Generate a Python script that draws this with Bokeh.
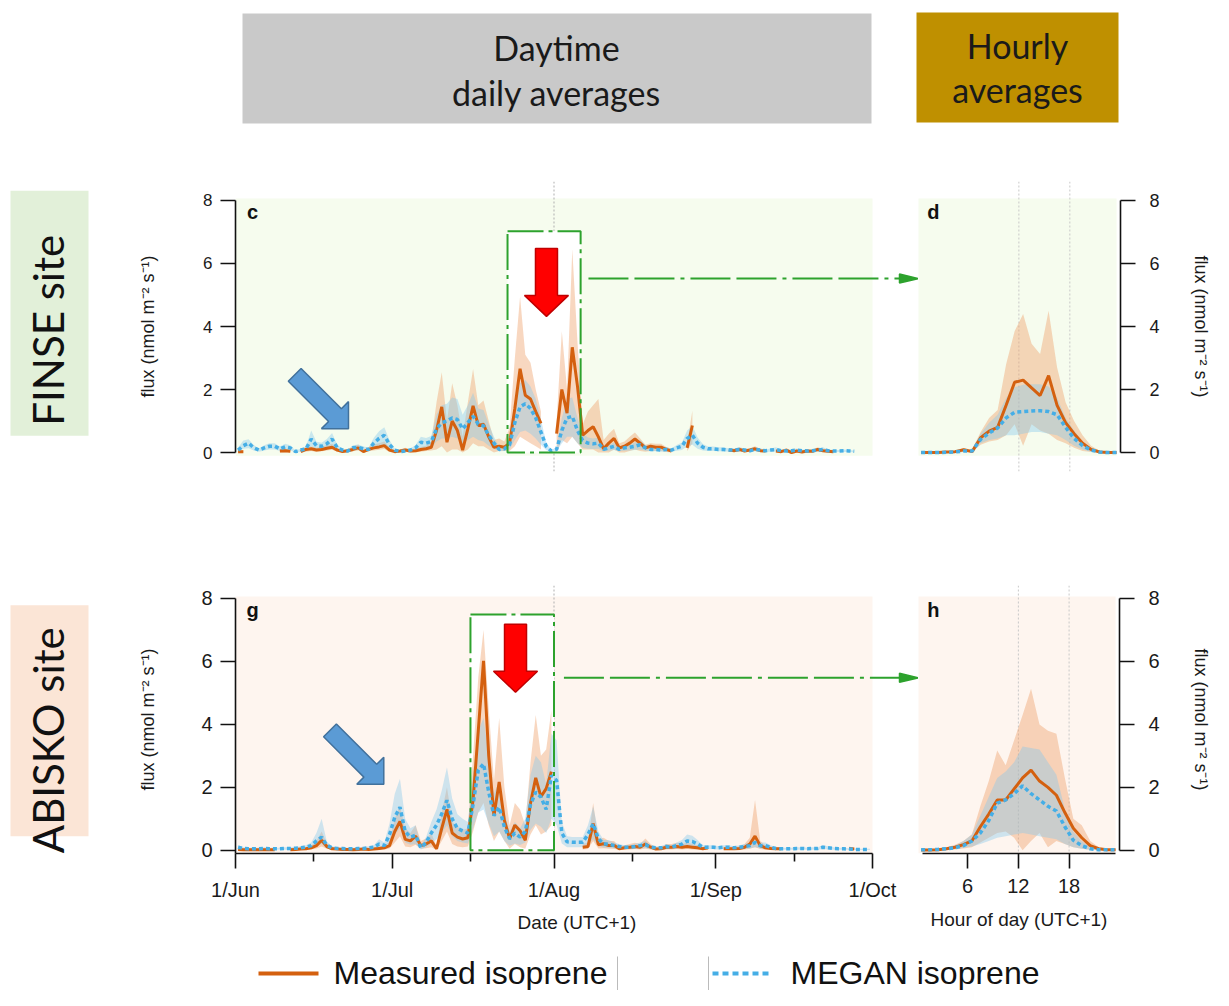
import math
from bokeh.plotting import figure
from bokeh.models import Range1d, LinearAxis, FixedTicker, Span
from bokeh.layouts import column, row
from bokeh.embed import file_html
from bokeh.resources import INLINE
from bokeh.core.properties import value

nan = float("nan")

# ------------------------------------------------------------------ data
# daily panels: day of season, 0 = 1 June (values plotted at mid-day)
season_day = [d + 0.5 for d in range(122)]
month_tick_days = [0, 30, 61, 92, 122]
month_tick_labels = ["1/Jun", "1/Jul", "1/Aug", "1/Sep", "1/Oct"]
mid_month_days = [15, 45, 76, 107]
hour_of_day = [h + 0.5 for h in range(24)]
hour_ticks = [6, 12, 18]
flux_ticks = [0, 2, 4, 6, 8]

# ---- FINSE, daytime daily averages (panel c)
finse_measured = [
    0.03, 0.03, nan, nan, nan, nan, nan, nan, 0.05, 0.06,
    0.04, nan, 0.03, 0.10, 0.12, 0.08, 0.10, 0.14, 0.17, 0.08,
    0.03, 0.06, 0.10, 0.15, 0.03, 0.10, 0.15, 0.18, 0.22, 0.08,
    0.03, 0.05, 0.08, 0.05, 0.06, 0.10, 0.12, 0.17, 0.70, 1.45,
    0.33, 1.00, 0.70, 0.08, 0.75, 1.48, 0.86, 0.90, 0.50, 0.17,
    0.20, 0.17, 0.30, 1.40, 2.66, 1.82, 1.70, 1.30, 0.93, nan,
    nan, 0.60, 2.00, 1.25, 3.34, 2.10, 0.55, 0.70, 0.82, 0.50,
    0.12, 0.30, 0.45, 0.15, 0.20, 0.30, 0.43, 0.30, 0.15, 0.20,
    0.17, 0.17, 0.10, 0.05, nan, nan, 0.15, 0.86, nan, nan,
    nan, nan, nan, nan, 0.08, 0.06, 0.10, 0.05, 0.08, 0.12,
    0.06, 0.05, nan, 0.05, 0.03, 0.08, 0.00, 0.05, 0.02, 0.05,
    0.04, 0.10, 0.06, 0.04, 0.03, nan, nan, nan, nan, nan,
    nan, nan]
finse_measured_lo = [
    0.00, 0.00, nan, nan, nan, nan, nan, nan, 0.00, 0.01,
    0.00, nan, 0.00, 0.03, 0.05, 0.02, 0.04, 0.07, 0.09, 0.03,
    0.00, 0.01, 0.04, 0.07, 0.00, 0.04, 0.07, 0.09, 0.11, 0.02,
    0.00, 0.00, 0.02, 0.00, 0.01, 0.03, 0.05, 0.07, 0.10, 0.20,
    0.00, 0.10, 0.10, 0.00, 0.10, 0.30, 0.20, 0.20, 0.10, 0.00,
    0.05, 0.05, 0.05, 0.20, 0.50, 0.40, 0.30, 0.20, 0.10, nan,
    nan, 0.00, 0.40, 0.30, 0.50, 0.30, 0.10, 0.10, 0.10, 0.00,
    0.00, 0.00, 0.10, 0.00, 0.00, 0.05, 0.10, 0.05, 0.03, 0.05,
    0.05, 0.05, 0.02, 0.00, nan, nan, 0.05, 0.30, nan, nan,
    nan, nan, nan, nan, 0.03, 0.02, 0.04, 0.01, 0.03, 0.05,
    0.02, 0.01, nan, 0.01, 0.00, 0.03, 0.00, 0.01, 0.00, 0.01,
    0.00, 0.04, 0.02, 0.00, 0.00, nan, nan, nan, nan, nan,
    nan, nan]
finse_measured_hi = [
    0.08, 0.08, nan, nan, nan, nan, nan, nan, 0.10, 0.12,
    0.09, nan, 0.08, 0.18, 0.20, 0.15, 0.18, 0.24, 0.28, 0.15,
    0.08, 0.12, 0.18, 0.26, 0.08, 0.18, 0.26, 0.30, 0.35, 0.15,
    0.08, 0.10, 0.15, 0.10, 0.12, 0.18, 0.22, 0.35, 1.60, 2.55,
    1.00, 2.20, 1.50, 0.50, 1.60, 2.65, 1.50, 1.65, 1.00, 0.40,
    0.45, 0.35, 0.80, 3.00, 4.95, 3.10, 2.85, 2.00, 1.30, nan,
    nan, 1.00, 3.85, 2.00, 6.45, 3.50, 0.90, 1.30, 1.50, 1.70,
    0.40, 0.60, 0.76, 0.30, 0.35, 0.50, 0.64, 0.45, 0.25, 0.30,
    0.28, 0.28, 0.18, 0.12, nan, nan, 0.30, 1.33, nan, nan,
    nan, nan, nan, nan, 0.14, 0.12, 0.17, 0.10, 0.14, 0.20,
    0.12, 0.10, nan, 0.10, 0.08, 0.14, 0.05, 0.10, 0.06, 0.10,
    0.09, 0.17, 0.12, 0.09, 0.08, nan, nan, nan, nan, nan,
    nan, nan]
finse_megan = [
    0.08, 0.22, 0.30, 0.15, 0.08, 0.15, 0.20, 0.20, 0.12, 0.18,
    0.15, 0.03, 0.08, 0.12, 0.43, 0.22, 0.20, 0.28, 0.43, 0.15,
    0.08, 0.05, 0.15, 0.17, 0.12, 0.10, 0.30, 0.45, 0.55, 0.25,
    0.08, 0.03, 0.05, 0.08, 0.15, 0.33, 0.30, 0.35, 0.75, 0.95,
    1.00, 1.10, 1.05, 0.75, 0.95, 1.15, 0.90, 0.85, 0.55, 0.30,
    0.10, 0.12, 0.25, 0.95, 1.45, 1.55, 1.40, 1.10, 0.65, 0.20,
    0.05, 0.10, 0.70, 1.10, 1.15, 0.70, 0.38, 0.30, 0.28, 0.30,
    0.10, 0.15, 0.20, 0.10, 0.15, 0.17, 0.20, 0.25, 0.15, 0.10,
    0.10, 0.08, 0.10, 0.08, 0.15, 0.20, 0.45, 0.55, 0.30, 0.17,
    0.12, 0.12, 0.10, 0.10, 0.08, 0.08, 0.10, 0.08, 0.06, 0.10,
    0.08, 0.06, 0.08, 0.10, 0.06, 0.05, 0.06, 0.08, 0.06, 0.05,
    0.06, 0.08, 0.10, 0.06, 0.05, 0.05, 0.06, 0.05, 0.04, nan,
    nan, nan]
finse_megan_lo = [
    0.04, 0.12, 0.14, 0.07, 0.03, 0.07, 0.10, 0.10, 0.05, 0.08,
    0.07, 0.01, 0.03, 0.05, 0.20, 0.10, 0.09, 0.13, 0.20, 0.07,
    0.03, 0.02, 0.07, 0.08, 0.05, 0.04, 0.14, 0.20, 0.25, 0.11,
    0.03, 0.01, 0.02, 0.03, 0.07, 0.15, 0.13, 0.15, 0.35, 0.45,
    0.45, 0.50, 0.45, 0.30, 0.40, 0.50, 0.40, 0.35, 0.22, 0.12,
    0.04, 0.05, 0.10, 0.40, 0.65, 0.70, 0.60, 0.45, 0.25, 0.08,
    0.02, 0.04, 0.30, 0.50, 0.50, 0.30, 0.15, 0.12, 0.11, 0.12,
    0.04, 0.06, 0.08, 0.04, 0.06, 0.07, 0.08, 0.10, 0.06, 0.04,
    0.04, 0.03, 0.04, 0.03, 0.06, 0.08, 0.20, 0.25, 0.12, 0.07,
    0.05, 0.05, 0.04, 0.04, 0.03, 0.03, 0.04, 0.03, 0.02, 0.04,
    0.03, 0.02, 0.03, 0.04, 0.02, 0.02, 0.02, 0.03, 0.02, 0.02,
    0.02, 0.03, 0.04, 0.02, 0.02, 0.02, 0.02, 0.02, 0.01, nan,
    nan, nan]
finse_megan_hi = [
    0.16, 0.38, 0.42, 0.24, 0.13, 0.23, 0.30, 0.30, 0.19, 0.28,
    0.23, 0.06, 0.13, 0.19, 0.70, 0.34, 0.31, 0.43, 0.62, 0.24,
    0.13, 0.08, 0.23, 0.26, 0.19, 0.16, 0.47, 0.68, 0.80, 0.39,
    0.13, 0.06, 0.08, 0.13, 0.24, 0.50, 0.46, 0.53, 1.20, 1.50,
    1.55, 1.75, 1.70, 1.20, 1.50, 1.90, 1.40, 1.35, 0.90, 0.50,
    0.17, 0.20, 0.40, 1.50, 2.20, 2.30, 2.10, 1.70, 1.05, 0.33,
    0.08, 0.17, 1.10, 1.70, 1.75, 1.10, 0.60, 0.48, 0.45, 0.48,
    0.17, 0.24, 0.32, 0.17, 0.24, 0.27, 0.32, 0.40, 0.24, 0.17,
    0.17, 0.13, 0.17, 0.13, 0.24, 0.32, 0.70, 0.85, 0.48, 0.27,
    0.19, 0.19, 0.17, 0.17, 0.13, 0.13, 0.17, 0.13, 0.10, 0.17,
    0.13, 0.10, 0.13, 0.17, 0.10, 0.08, 0.10, 0.13, 0.10, 0.08,
    0.10, 0.13, 0.17, 0.10, 0.08, 0.08, 0.10, 0.08, 0.07, nan,
    nan, nan]

# ---- FINSE, hourly averages (panel d)
finse_hourly_measured = [0.00, 0.00, 0.00, 0.02, 0.03, 0.09, 0.03, 0.47, 0.68, 0.80,
                         1.50, 2.23, 2.30, 2.05, 1.81, 2.44, 1.50, 0.95, 0.60, 0.30,
                         0.10, 0.02, 0.00, 0.00]
finse_hourly_measured_lo = [0.00, 0.00, 0.00, 0.00, 0.00, 0.02, 0.01, 0.25, 0.35, 0.40,
                            0.55, 0.90, 0.22, 0.90, 0.70, 0.60, 0.40, 0.30, 0.15, 0.05,
                            0.02, 0.00, 0.00, 0.00]
finse_hourly_measured_hi = [0.02, 0.02, 0.02, 0.05, 0.06, 0.14, 0.10, 0.65, 1.10, 1.35,
                            2.80, 3.85, 4.40, 3.45, 3.13, 4.50, 2.70, 1.60, 1.00, 0.55,
                            0.22, 0.06, 0.02, 0.02]
finse_hourly_megan = [0.00, 0.00, 0.00, 0.01, 0.02, 0.05, 0.05, 0.42, 0.62, 0.78,
                      1.10, 1.28, 1.30, 1.32, 1.33, 1.30, 1.20, 0.80, 0.45, 0.22,
                      0.08, 0.02, 0.00, 0.00]
finse_hourly_megan_lo = [0.00, 0.00, 0.00, 0.00, 0.01, 0.02, 0.02, 0.30, 0.40, 0.45,
                         0.55, 0.55, 0.60, 0.65, 0.65, 0.60, 0.55, 0.40, 0.22, 0.10,
                         0.03, 0.01, 0.00, 0.00]
finse_hourly_megan_hi = [0.01, 0.01, 0.01, 0.03, 0.04, 0.09, 0.10, 0.60, 0.95, 1.20,
                         1.73, 2.07, 2.15, 2.17, 2.17, 2.10, 1.74, 1.10, 0.70, 0.35,
                         0.13, 0.04, 0.01, 0.01]

# ---- ABISKO, daytime daily averages (panel g)
abisko_measured = [
    0.03, 0.02, 0.02, 0.02, 0.02, 0.02, 0.02, 0.02, nan, nan,
    0.02, 0.03, 0.04, 0.05, 0.08, 0.15, 0.32, 0.12, 0.05, 0.04,
    0.03, 0.03, 0.02, 0.03, 0.04, 0.03, 0.04, 0.06, 0.08, 0.15,
    0.60, 0.92, 0.35, 0.30, 0.45, 0.15, 0.20, 0.30, 0.05, 0.70,
    1.30, 0.55, 0.42, 0.36, 0.40, 1.60, 3.80, 6.02, 3.00, 1.10,
    2.17, 0.95, 0.37, 0.80, 0.62, 0.32, 1.50, 2.30, 1.70, 1.96,
    2.50, nan, nan, nan, nan, nan, 0.10, 0.12, 0.85, 0.18,
    0.21, 0.15, 0.16, 0.05, 0.08, 0.10, 0.12, 0.10, 0.20, 0.10,
    0.04, 0.05, 0.10, 0.10, 0.12, 0.10, 0.12, 0.10, 0.08, 0.05,
    0.08, nan, nan, 0.05, 0.05, 0.05, 0.06, 0.10, 0.20, 0.45,
    0.15, 0.08, 0.06, 0.05, 0.05, nan, nan, nan, nan, nan,
    nan, nan, nan, nan, nan, nan, nan, 0.06, 0.04, nan,
    nan, nan]
abisko_measured_lo = [
    0.01, 0.00, 0.00, 0.00, 0.00, 0.00, 0.00, 0.00, nan, nan,
    0.00, 0.01, 0.01, 0.02, 0.03, 0.06, 0.12, 0.05, 0.02, 0.01,
    0.01, 0.01, 0.00, 0.01, 0.01, 0.01, 0.01, 0.02, 0.03, 0.06,
    0.25, 0.45, 0.12, 0.10, 0.18, 0.05, 0.07, 0.10, 0.01, 0.30,
    0.60, 0.20, 0.12, 0.10, 0.12, 0.60, 1.20, 1.50, 0.80, 0.30,
    0.60, 0.30, 0.05, 0.20, 0.10, 0.05, 0.50, 0.80, 0.50, 0.60,
    0.80, nan, nan, nan, nan, nan, 0.03, 0.04, 0.30, 0.06,
    0.07, 0.05, 0.05, 0.01, 0.02, 0.03, 0.04, 0.03, 0.06, 0.03,
    0.01, 0.01, 0.03, 0.03, 0.04, 0.03, 0.04, 0.03, 0.02, 0.01,
    0.02, nan, nan, 0.01, 0.01, 0.01, 0.02, 0.03, 0.05, 0.10,
    0.04, 0.02, 0.02, 0.01, 0.01, nan, nan, nan, nan, nan,
    nan, nan, nan, nan, nan, nan, nan, 0.02, 0.01, nan,
    nan, nan]
abisko_measured_hi = [
    0.06, 0.05, 0.05, 0.05, 0.05, 0.05, 0.05, 0.05, nan, nan,
    0.05, 0.06, 0.08, 0.10, 0.15, 0.30, 0.60, 0.22, 0.10, 0.08,
    0.06, 0.06, 0.05, 0.06, 0.08, 0.06, 0.08, 0.12, 0.15, 0.28,
    1.00, 1.40, 0.70, 0.55, 0.80, 0.30, 0.38, 0.55, 0.12, 1.20,
    2.00, 0.90, 0.75, 0.65, 0.70, 3.00, 5.50, 7.00, 4.50, 2.20,
    4.20, 2.00, 0.80, 1.50, 1.30, 0.80, 2.80, 4.30, 3.00, 3.20,
    4.45, nan, nan, nan, nan, nan, 0.20, 0.25, 1.50, 0.35,
    0.40, 0.30, 0.30, 0.12, 0.16, 0.20, 0.24, 0.20, 0.38, 0.20,
    0.10, 0.10, 0.20, 0.20, 0.24, 0.20, 0.24, 0.20, 0.16, 0.10,
    0.16, nan, nan, 0.10, 0.10, 0.10, 0.12, 0.20, 0.40, 1.60,
    0.30, 0.16, 0.12, 0.10, 0.10, nan, nan, nan, nan, nan,
    nan, nan, nan, nan, nan, nan, nan, 0.12, 0.08, nan,
    nan, nan]
abisko_megan = [
    0.10, 0.06, 0.05, 0.05, 0.05, 0.06, 0.05, 0.05, 0.05, 0.06,
    0.06, 0.07, 0.08, 0.10, 0.15, 0.30, 0.42, 0.16, 0.08, 0.06,
    0.06, 0.05, 0.05, 0.06, 0.06, 0.08, 0.10, 0.20, 0.15, 0.50,
    1.05, 1.37, 0.60, 0.42, 0.48, 0.08, 0.25, 0.55, 0.80, 1.16,
    1.59, 1.00, 0.70, 0.62, 0.55, 1.45, 2.55, 2.75, 1.85, 1.10,
    1.37, 0.74, 0.37, 0.55, 0.42, 0.60, 1.45, 1.85, 1.69, 1.30,
    2.38, 2.22, 0.55, 0.27, 0.26, 0.26, 0.26, 0.50, 0.85, 0.37,
    0.20, 0.20, 0.15, 0.12, 0.10, 0.10, 0.12, 0.15, 0.18, 0.10,
    0.08, 0.08, 0.12, 0.10, 0.15, 0.20, 0.30, 0.28, 0.20, 0.10,
    0.10, 0.10, 0.08, 0.10, 0.10, 0.08, 0.10, 0.12, 0.15, 0.25,
    0.15, 0.15, 0.10, 0.06, 0.05, 0.05, 0.05, 0.06, 0.06, 0.05,
    0.06, 0.06, 0.10, 0.08, 0.06, 0.05, 0.05, 0.04, 0.03, 0.03,
    0.03, 0.03]
abisko_megan_lo = [
    0.04, 0.02, 0.02, 0.02, 0.02, 0.02, 0.02, 0.02, 0.02, 0.02,
    0.02, 0.03, 0.03, 0.04, 0.06, 0.12, 0.20, 0.06, 0.03, 0.02,
    0.02, 0.02, 0.02, 0.02, 0.02, 0.03, 0.04, 0.08, 0.06, 0.20,
    0.50, 0.70, 0.25, 0.18, 0.20, 0.03, 0.10, 0.22, 0.35, 0.55,
    0.80, 0.45, 0.30, 0.25, 0.22, 0.70, 1.20, 1.30, 0.85, 0.45,
    0.60, 0.30, 0.15, 0.22, 0.17, 0.25, 0.65, 0.85, 0.75, 0.55,
    1.00, 0.80, 0.22, 0.10, 0.10, 0.10, 0.10, 0.20, 0.35, 0.15,
    0.08, 0.08, 0.06, 0.05, 0.04, 0.04, 0.05, 0.06, 0.07, 0.04,
    0.03, 0.03, 0.05, 0.04, 0.06, 0.08, 0.12, 0.11, 0.08, 0.04,
    0.04, 0.04, 0.03, 0.04, 0.04, 0.03, 0.04, 0.05, 0.06, 0.10,
    0.06, 0.06, 0.04, 0.02, 0.02, 0.02, 0.02, 0.02, 0.02, 0.02,
    0.02, 0.02, 0.04, 0.03, 0.02, 0.02, 0.02, 0.02, 0.01, 0.01,
    0.01, 0.01]
abisko_megan_hi = [
    0.16, 0.10, 0.08, 0.08, 0.08, 0.10, 0.08, 0.08, 0.08, 0.10,
    0.10, 0.11, 0.13, 0.16, 0.25, 0.55, 1.00, 0.27, 0.13, 0.10,
    0.10, 0.08, 0.08, 0.10, 0.10, 0.13, 0.16, 0.35, 0.25, 0.85,
    1.80, 2.27, 1.00, 0.70, 0.80, 0.14, 0.42, 0.90, 1.30, 1.90,
    2.64, 1.65, 1.15, 1.00, 0.90, 2.40, 3.80, 4.20, 3.00, 1.80,
    2.20, 1.20, 0.60, 0.90, 0.70, 1.00, 2.40, 3.00, 2.80, 2.10,
    3.70, 3.50, 0.90, 0.45, 0.42, 0.42, 0.42, 0.80, 1.40, 0.60,
    0.33, 0.33, 0.25, 0.20, 0.16, 0.16, 0.20, 0.25, 0.30, 0.16,
    0.13, 0.13, 0.20, 0.16, 0.25, 0.33, 0.50, 0.46, 0.33, 0.16,
    0.16, 0.16, 0.13, 0.16, 0.16, 0.13, 0.16, 0.20, 0.25, 0.40,
    0.25, 0.25, 0.16, 0.10, 0.08, 0.08, 0.08, 0.10, 0.10, 0.08,
    0.10, 0.10, 0.16, 0.13, 0.10, 0.08, 0.08, 0.07, 0.05, 0.05,
    0.05, 0.05]

# ---- ABISKO, hourly averages (panel h)
abisko_hourly_measured = [0.01, 0.01, 0.02, 0.05, 0.10, 0.18, 0.30, 0.75, 1.15, 1.60,
                          1.60, 1.95, 2.30, 2.55, 2.20, 2.00, 1.75, 1.20, 0.70, 0.40,
                          0.15, 0.05, 0.02, 0.02]
abisko_hourly_measured_lo = [0.00, 0.00, 0.00, 0.01, 0.03, 0.06, 0.10, 0.25, 0.40, 0.55,
                             0.60, 0.40, 0.00, 0.30, 0.55, 0.10, 0.30, 0.20, 0.10, 0.05,
                             0.02, 0.00, 0.00, 0.00]
abisko_hourly_measured_hi = [0.03, 0.03, 0.05, 0.10, 0.18, 0.30, 0.50, 1.40, 2.20, 3.17,
                             2.70, 3.50, 4.30, 5.13, 4.00, 3.80, 3.70, 2.30, 1.00, 0.80,
                             0.30, 0.10, 0.05, 0.05]
abisko_hourly_megan = [0.02, 0.02, 0.03, 0.05, 0.08, 0.15, 0.30, 0.55, 0.95, 1.50,
                       1.60, 1.80, 2.05, 1.80, 1.60, 1.40, 1.25, 0.75, 0.32, 0.15,
                       0.05, 0.02, 0.02, 0.02]
abisko_hourly_megan_lo = [0.01, 0.01, 0.01, 0.02, 0.04, 0.08, 0.12, 0.20, 0.30, 0.40,
                          0.45, 0.50, 0.55, 0.50, 0.45, 0.40, 0.35, 0.20, 0.10, 0.05,
                          0.02, 0.01, 0.01, 0.01]
abisko_hourly_megan_hi = [0.03, 0.03, 0.05, 0.08, 0.15, 0.30, 0.50, 1.10, 1.70, 2.30,
                          2.50, 2.80, 3.30, 3.25, 3.20, 2.80, 2.40, 1.30, 0.60, 0.30,
                          0.10, 0.04, 0.03, 0.03]

# ------------------------------------------------------------------ styles
ORANGE = "#D4600F"
BLUE = "#45AEE6"
ORANGE_BAND = "#EFA06A"
BLUE_BAND = "#86C8EA"
GREEN = "#2DA22D"
AX_FONT = "Liberation Sans"
TITLE_FONT = "Lato"
Y_LABEL = "flux (nmol m\u207b\u00b2 s\u207b\u00b9)"

PX_PER_DAY = 637 / 122.0
PX_PER_HOUR = 8.58

BLUE_ARROW_PX = [(0, 0), (0, -27), (-7.1, -19.9), (-47.4, -60.2),
                 (-60.2, -47.4), (-19.9, -7.1), (-27, 0)]
RED_ARROW_PX = [(0, 0), (22, -21), (11, -21), (11, -68),
                (-11, -68), (-11, -21), (-22, -21)]


def base_fig(width, height, xr, yr, **borders):
    p = figure(width=width, height=height, x_range=xr, y_range=yr,
               x_axis_type=None, y_axis_type=None, toolbar_location=None,
               output_backend="svg", outline_line_color=None,
               background_fill_color="white", border_fill_color="white",
               min_border=0, **borders)
    return p


def style_axis(ax, tick_size, label_size):
    ax.axis_line_width = 1.6
    ax.axis_line_color = "#111111"
    ax.major_tick_line_width = 1.6
    ax.minor_tick_line_width = 1.6
    ax.major_tick_line_color = "#111111"
    ax.minor_tick_line_color = "#111111"
    ax.major_tick_in = 0
    ax.major_tick_out = 15
    ax.minor_tick_in = 0
    ax.minor_tick_out = 8
    ax.major_label_text_font = AX_FONT
    ax.major_label_text_font_size = tick_size
    ax.major_label_text_color = "#1a1a1a"
    ax.axis_label_text_font = AX_FONT
    ax.axis_label_text_font_style = "normal"
    ax.axis_label_text_font_size = label_size
    ax.axis_label_text_color = "#1a1a1a"


def band(p, x, lo, hi, color, alpha):
    sx, sl, sh = [], [], []

    def flush():
        if len(sx) > 1:
            p.varea(x=list(sx), y1=list(sl), y2=list(sh),
                    fill_color=color, fill_alpha=alpha)
        sx.clear(); sl.clear(); sh.clear()

    for xi, l, h in zip(x, lo, hi):
        if l != l or h != h:
            flush()
        else:
            sx.append(xi); sl.append(l); sh.append(h)
    flush()


def series(p, x, m, mlo, mhi, g, glo, ghi):
    band(p, x, mlo, mhi, ORANGE_BAND, 0.42)
    band(p, x, glo, ghi, BLUE_BAND, 0.40)
    p.line(x, m, line_color=ORANGE, line_width=3)
    p.line(x, g, line_color=BLUE, line_width=3.5, line_dash="4 3")


def shape(p, tip, pts, px_x, px_y, fill, line):
    xs = [tip[0] + dx / px_x for dx, dy in pts]
    ys = [tip[1] - dy / px_y for dx, dy in pts]
    p.patch(xs, ys, fill_color=fill, line_color=line, line_width=1.5)


def daily_panel(height, yr, b_top, b_bottom, bg, letter, data, box,
                blue_tip, red_tip, arrow_x0, arrow_y, with_xaxis, tick_size):
    x_end = 683 / PX_PER_DAY
    p = base_fig(798, height, Range1d(0, x_end), yr,
                 min_border_left=115, min_border_right=0,
                 min_border_top=b_top, min_border_bottom=b_bottom)
    px_y = (height - b_top - b_bottom) / (yr.end - yr.start)
    p.quad(left=[0], right=[122], bottom=[-0.1], top=[8.06],
           fill_color=bg, line_color=None, level="image")
    p.add_layout(Span(location=61, dimension="height", line_color="#AFAFAF",
                      line_width=1, line_dash="2 2", level="underlay"))
    bl, br, bt = box
    p.quad(left=[bl], right=[br], bottom=[0], top=[bt],
           fill_color="white", line_color=None)
    series(p, season_day, *data)
    p.quad(left=[bl], right=[br], bottom=[0], top=[bt], fill_alpha=0,
           line_color=GREEN, line_width=2, line_dash="36 5 4 5")
    # dash-dot connector to the hourly panel
    p.segment(x0=[arrow_x0], y0=[arrow_y], x1=[x_end - 16 / PX_PER_DAY], y1=[arrow_y],
              line_color=GREEN, line_width=2, line_dash="40 6 40 6 4 6")
    shape(p, (x_end, arrow_y), [(0, 0), (-19, -4.5), (-19, 4.5)],
          PX_PER_DAY, px_y, GREEN, GREEN)
    shape(p, blue_tip, BLUE_ARROW_PX, PX_PER_DAY, px_y, "#5B9BD5", "#41719C")
    shape(p, red_tip, RED_ARROW_PX, PX_PER_DAY, px_y, "#FF0000", "#C00000")
    p.text(x=[17 / PX_PER_DAY], y=[7.62], text=[letter], text_font=value(AX_FONT),
           text_font_style="bold", text_font_size="20px", text_color="#111111",
           text_align="center", text_baseline="middle")
    ay = LinearAxis(ticker=FixedTicker(ticks=flux_ticks), bounds=(yr.start if with_xaxis else 0, 8),
                    axis_label=Y_LABEL)
    style_axis(ay, tick_size, "18px")
    ay.major_label_standoff = 8
    ay.axis_label_standoff = 40 if with_xaxis else 42
    p.add_layout(ay, "left")
    if with_xaxis:
        ax = LinearAxis(ticker=FixedTicker(ticks=month_tick_days, minor_ticks=mid_month_days),
                        bounds=(0, 122), axis_label="Date (UTC+1)",
                        major_label_overrides={d: l for d, l in zip(month_tick_days, month_tick_labels)})
        style_axis(ax, "20px", "19px")
        ax.major_label_standoff = 10
        ax.axis_label_standoff = 8
        p.add_layout(ax, "below")
    return p


def hourly_panel(height, yr, b_top, b_bottom, bg, letter, data, with_xaxis, tick_size):
    x0 = (918 - 916.4) / PX_PER_HOUR
    p = base_fig(295, height, Range1d(x0, x0 + 204 / PX_PER_HOUR), yr,
                 min_border_left=0, min_border_right=91,
                 min_border_top=b_top, min_border_bottom=b_bottom)
    p.quad(left=[0.1], right=[23.5], bottom=[-0.1], top=[8.06],
           fill_color=bg, line_color=None, level="image")
    for hr in (12, 18):
        p.add_layout(Span(location=hr, dimension="height", line_color="#C8C8C8",
                          line_width=1, line_dash="2 2", level="underlay"))
    series(p, hour_of_day, *data)
    p.text(x=[1.95], y=[7.62], text=[letter], text_font=value(AX_FONT),
           text_font_style="bold", text_font_size="20px", text_color="#111111",
           text_align="center", text_baseline="middle")
    ay = LinearAxis(ticker=FixedTicker(ticks=flux_ticks), bounds=(0, 8), axis_label=Y_LABEL)
    style_axis(ay, tick_size, "18px")
    ay.major_label_standoff = 14
    ay.axis_label_standoff = 28
    p.add_layout(ay, "right")
    if with_xaxis:
        ax = LinearAxis(ticker=FixedTicker(ticks=hour_ticks), bounds=(0.65, 23.5),
                        axis_label="Hour of day (UTC+1)")
        style_axis(ax, "20px", "19px")
        ax.major_label_standoff = 10
        ax.axis_label_standoff = 13
        p.add_layout(ax, "below")
    return p


# ------------------------------------------------------------------ header
header = base_fig(1213, 160, Range1d(0, 1213), Range1d(160, 0))
header.quad(left=[242], right=[871], top=[13], bottom=[123], fill_color="#C9C9C9", line_color=None)
header.quad(left=[916], right=[1118], top=[12], bottom=[122], fill_color="#BF9000", line_color=None)
header.text(x=[556, 556, 1017, 1017], y=[47, 92, 45, 89],
            text=["Daytime", "daily averages", "Hourly", "averages"],
            text_font=value(TITLE_FONT), text_font_size="34px", text_color="#1a1a1a",
            text_align="center", text_baseline="middle")

# ------------------------------------------------------------------ rows
site_top = base_fig(120, 380, Range1d(0, 120), Range1d(540, 160))
site_top.quad(left=[10], right=[88], top=[172], bottom=[493], fill_color="#E2F0D9", line_color=None)
site_top.text(x=[47], y=[355], text=["FINSE site"], angle=math.pi / 2,
              text_font=value(TITLE_FONT), text_font_size="42px", text_color="#111111",
              text_align="center", text_baseline="middle")

panel_c = daily_panel(380, Range1d(-0.6, 8.6), 21, 69, "#F6FCEE", "c",
                      (finse_measured, finse_measured_lo, finse_measured_hi,
                       finse_megan, finse_megan_lo, finse_megan_hi),
                      (52.1, 66.1, 7.02), (21.64, 0.76), (59.56, 4.32),
                      67.6, 5.52, False, "17px")
panel_d = hourly_panel(380, Range1d(-0.6, 8.6), 21, 69, "#F6FCEE", "d",
                       (finse_hourly_measured, finse_hourly_measured_lo, finse_hourly_measured_hi,
                        finse_hourly_megan, finse_hourly_megan_lo, finse_hourly_megan_hi),
                       False, "18px")

site_bot = base_fig(120, 405, Range1d(0, 120), Range1d(945, 540))
site_bot.quad(left=[10], right=[88], top=[570], bottom=[919], fill_color="#FBE5D6", line_color=None)
site_bot.text(x=[47], y=[774], text=["ABISKO site"], angle=math.pi / 2,
              text_font=value(TITLE_FONT), text_font_size="42px", text_color="#111111",
              text_align="center", text_baseline="middle")

panel_g = daily_panel(405, Range1d(-0.1, 8.41), 45, 92, "#FEF5EF", "g",
                      (abisko_measured, abisko_measured_lo, abisko_measured_hi,
                       abisko_megan, abisko_megan_lo, abisko_megan_hi),
                      (45.0, 61.0, 7.49), (28.4, 2.10), (53.63, 5.02),
                      62.9, 5.48, True, "20px")
panel_h = hourly_panel(405, Range1d(-0.1, 8.41), 45, 92, "#FEF5EF", "h",
                       (abisko_hourly_measured, abisko_hourly_measured_lo, abisko_hourly_measured_hi,
                        abisko_hourly_megan, abisko_hourly_megan_lo, abisko_hourly_megan_hi),
                       True, "20px")

# ------------------------------------------------------------------ legend
legend = base_fig(1213, 45, Range1d(0, 1213), Range1d(990, 945))
legend.segment(x0=[258], y0=[973], x1=[318], y1=[973], line_color=ORANGE, line_width=4)
legend.segment(x0=[712], y0=[973], x1=[772], y1=[973], line_color=BLUE, line_width=4,
               line_dash="6 4")
legend.segment(x0=[617, 708], y0=[956, 956], x1=[617, 708], y1=[990, 990],
               line_color="#BBBBBB", line_width=1)
legend.text(x=[333, 790], y=[972, 972], text=["Measured isoprene", "MEGAN isoprene"],
            text_font=value(AX_FONT), text_font_size="32px", text_color="#111111",
            text_align="left", text_baseline="middle")

layout = column(header,
                row(site_top, panel_c, panel_d),
                row(site_bot, panel_g, panel_h),
                legend)

open("out.html", "w").write(file_html(layout, INLINE))
